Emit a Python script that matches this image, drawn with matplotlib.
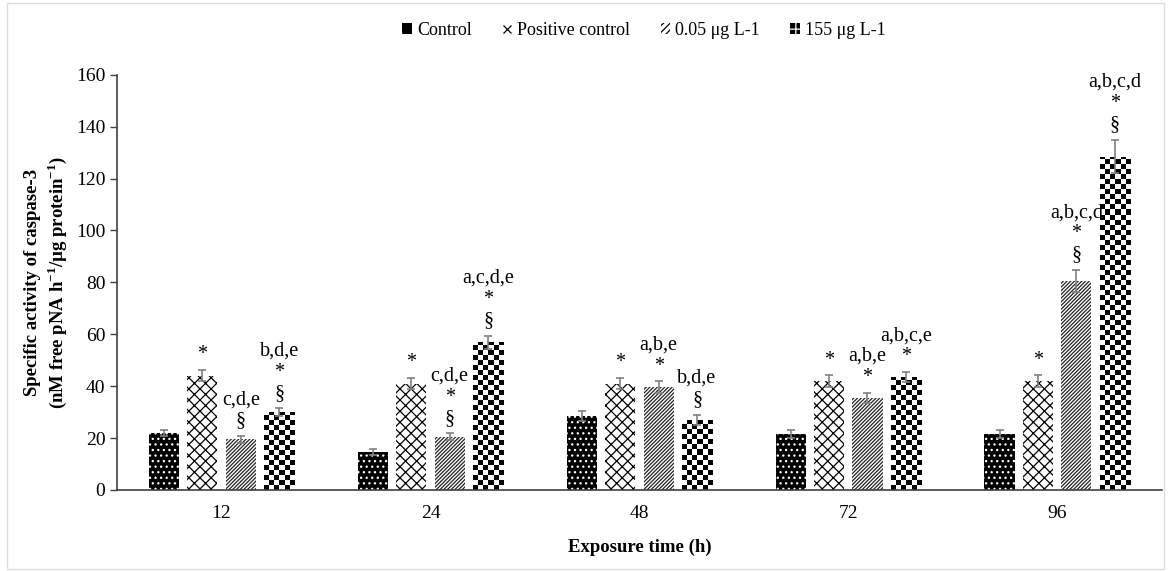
import numpy as np
import matplotlib
matplotlib.use('Agg')
import matplotlib.pyplot as plt
from matplotlib.patches import Patch, Rectangle
from matplotlib.lines import Line2D

plt.rcParams['font.family'] = 'Liberation Serif'
plt.rcParams['mathtext.fontset'] = 'custom'
plt.rcParams['mathtext.rm'] = 'Liberation Serif'
plt.rcParams['mathtext.bf'] = 'Liberation Serif:bold'
plt.rcParams['hatch.linewidth'] = 0.9

# data
times = ['12', '24', '48', '72', '96']
groups = ['Control', 'Positive control', '0.05 μg L-1', '155 μg L-1']
control = [22, 14.5, 28.5, 21.5, 21.5]
positive = [44, 41, 41, 42, 42]
low = [19.5, 20.5, 39.5, 35.5, 80.5]
high = [30, 57, 27, 43.5, 128.5]
control_err = [1.2, 1.2, 1.8, 1.5, 1.5]
positive_err = [2.2, 2.2, 2.2, 2.2, 2.2]
low_err = [1.3, 1.3, 2.3, 2.0, 4.3]
high_err = [1.5, 2.5, 2.0, 2.0, 6.5]
positive_marks = ['*', '*', '*', '*', '*']
low_marks = ['c,d,e\n§', 'c,d,e\n*\n§', 'a,b,e\n*', 'a,b,e\n*', 'a,b,c,d\n*\n§']
high_marks = ['b,d,e\n*\n§', 'a,c,d,e\n*\n§', 'b,d,e\n§', 'a,b,c,e\n*', 'a,b,c,d\n*\n§']

fig = plt.figure(figsize=(11.71, 5.71), dpi=100)
ax = fig.add_axes([0.1, 0.142, 0.892, 0.727])

x = np.arange(len(times))
step = 0.184
width = 0.144
offs = [-1.5 * step, -0.5 * step, 0.5 * step, 1.5 * step]

b_ctrl = ax.bar(x + offs[0], control, width, facecolor='black', edgecolor='white',
                hatch='...', linewidth=0)
b_pos = ax.bar(x + offs[1], positive, width, facecolor='white', edgecolor='black',
               hatch='xxx', linewidth=0)
b_low = ax.bar(x + offs[2], low, width, facecolor='white', edgecolor='#222222',
               hatch='/////////', linewidth=0)
b_high = ax.bar(x + offs[3], high, width, facecolor='white', edgecolor='white',
                linewidth=0)

ax.set_xlim(-0.5, len(times) - 0.5)
ax.set_ylim(0, 160)

# checkerboard fill for the 155 ug/L bars
px_per_unit = ax.get_position().height * fig.get_figheight() * fig.dpi / 160
cell_h = 5.0 / px_per_unit
for rect in b_high.patches:
    x0, w, h = rect.get_x(), rect.get_width(), rect.get_height()
    ncol = 6
    nrow = int(np.ceil(h / cell_h))
    ii, jj = np.indices((nrow, ncol))
    img = ((ii + jj) % 2).astype(float)
    im = ax.imshow(img, cmap='gray', extent=[x0, x0 + w, 0, nrow * cell_h],
                   origin='lower', interpolation='nearest', aspect='auto', zorder=2)
    im.set_clip_path(rect)

ax.set_xlim(-0.5, len(times) - 0.5)
ax.set_ylim(0, 160)

for off, vals, err in [(offs[0], control, control_err), (offs[1], positive, positive_err),
                       (offs[2], low, low_err), (offs[3], high, high_err)]:
    ax.errorbar(x + off, vals, yerr=err, fmt='none', ecolor='#808080', elinewidth=1.2,
                capsize=3, capthick=1.2, zorder=3)

for off, vals, err, marks in [(offs[1], positive, positive_err, positive_marks),
                              (offs[2], low, low_err, low_marks),
                              (offs[3], high, high_err, high_marks)]:
    for i in range(len(times)):
        ax.annotate(marks[i], (x[i] + off, vals[i] + err[i]), xytext=(0, 4),
                    textcoords='offset points', ha='center', va='bottom',
                    fontsize=14.5, linespacing=1.15, annotation_clip=False)

ax.set_xticks(x)
ax.set_xticklabels(times)
ax.tick_params(axis='x', length=0, pad=11, labelsize=14)
ax.tick_params(axis='y', length=5, width=1, color='#404040', labelsize=14)
ax.set_yticks(np.arange(0, 161, 20))
for s in ['top', 'right']:
    ax.spines[s].set_visible(False)
for s in ['left', 'bottom']:
    ax.spines[s].set_color('#404040')
    ax.spines[s].set_linewidth(1.2)

ax.set_ylabel('Specific activity of caspase-3\n'
              r'(nM free pNA h$^{\mathbf{-1}}$/µg protein$^{\mathbf{-1}}$)',
              fontweight='bold', fontsize=13.5, labelpad=5)
ax.set_xlabel('Exposure time (h)', fontweight='bold', fontsize=13.5, labelpad=12)

handles = [Patch(facecolor='black', edgecolor='white', hatch='.', lw=0),
           Line2D([], [], marker='x', color='black', linestyle='none', markersize=6,
                  markeredgewidth=0.9),
           Patch(facecolor='white', edgecolor='black', hatch='/////', lw=0),
           Patch(facecolor='black', edgecolor='white', hatch='++', lw=0)]
fig.legend(handles, groups, loc='upper center', bbox_to_anchor=(0.55, 0.99), ncol=4,
           frameon=False, handlelength=0.55, handleheight=0.6, handletextpad=0.25,
           columnspacing=1.7, fontsize=13)

fig.patches.append(Rectangle((0.006, 0.004), 0.988, 0.99, transform=fig.transFigure,
                             fill=False, edgecolor='#dddddd', lw=1))

fig.savefig('out.png', dpi=100)
